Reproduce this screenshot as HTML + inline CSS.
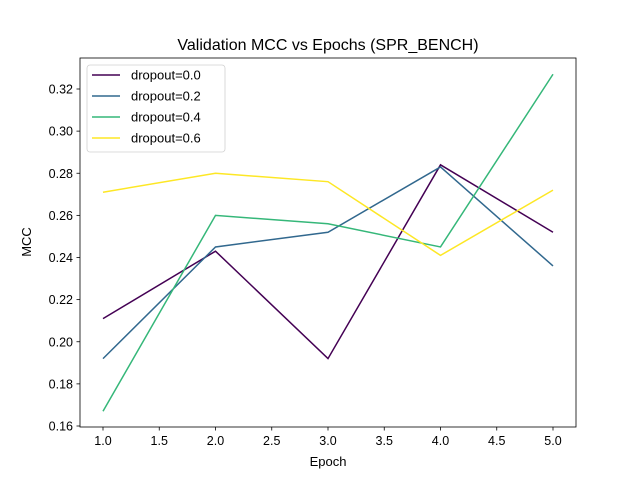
<!DOCTYPE html>
<html><head><meta charset="utf-8"><style>
body{margin:0;background:#fff;}
svg{display:block;font-family:"Liberation Sans","DejaVu Sans",sans-serif;}
</style></head><body>
<svg id="chart" width="640" height="480">
<rect x="0" y="0" width="640" height="480" fill="#fff"/>
<text x="328" y="50" text-anchor="middle" font-size="16">Validation MCC vs Epochs (SPR_BENCH)</text>
<g id="grid"></g>
<g id="series"></g>
<rect x="80" y="58" width="496" height="369" fill="none" stroke="#000" stroke-width="0.8"/>
<text x="328" y="466" text-anchor="middle" font-size="13">Epoch</text>
<text transform="translate(31,242) rotate(-90)" text-anchor="middle" font-size="13">MCC</text>
<g id="legend"></g>
</svg>
<script>
const epochs = [1, 2, 3, 4, 5];
const seriesNames = ["dropout=0.0", "dropout=0.2", "dropout=0.4", "dropout=0.6"];
const d00 = [0.211, 0.243, 0.192, 0.284, 0.252];
const d02 = [0.192, 0.245, 0.252, 0.283, 0.236];
const d04 = [0.167, 0.260, 0.256, 0.245, 0.327];
const d06 = [0.271, 0.280, 0.276, 0.241, 0.272];
const xTicks = [1.0, 1.5, 2.0, 2.5, 3.0, 3.5, 4.0, 4.5, 5.0];
const yTicks = [0.16, 0.18, 0.20, 0.22, 0.24, 0.26, 0.28, 0.30, 0.32];
const colors = ["#440154", "#31688e", "#35b779", "#fde725"];
const allSeries = [d00, d02, d04, d06];

const NS = "http://www.w3.org/2000/svg";
const xs = v => 103 + (v - 1) * 112.5;
const ys = v => 426 - (v - 0.16) / 0.02 * 42.125;
function mk(tag, attrs, parent){const e=document.createElementNS(NS,tag);for(const k in attrs)e.setAttribute(k,attrs[k]);parent.appendChild(e);return e;}
const grid = document.getElementById("grid");
xTicks.forEach(t=>{
  const l=mk("line",{x1:xs(t),x2:xs(t),y1:427,y2:430.5,stroke:"#000","stroke-width":0.8},grid);
  
  
  const tx=mk("text",{x:xs(t),y:445,"text-anchor":"middle","font-size":12.5},grid);
  tx.textContent=t.toFixed(1);
  
  
});
yTicks.forEach(t=>{
  const l=mk("line",{x1:76.5,x2:80,y1:ys(t),y2:ys(t),stroke:"#000","stroke-width":0.8},grid);
  
  
  const tx=mk("text",{x:73,y:ys(t)+4.5,"text-anchor":"end","font-size":12.5},grid);
  tx.textContent=t.toFixed(2);
  
  
});
const sg=document.getElementById("series");
allSeries.forEach((s,i)=>{
  const p=mk("polyline",{points:s.map((v,j)=>xs(epochs[j])+","+ys(v)).join(" "),fill:"none",stroke:colors[i],"stroke-width":1.5},sg);
  
  
});
const lg=document.getElementById("legend");
const box=mk("rect",{x:87,y:65,width:138,height:87,rx:3,fill:"#fff",stroke:"#ccc","stroke-width":0.8,opacity:0.9},lg);


seriesNames.forEach((n,i)=>{
  const y=75+i*21;
  mk("line",{x1:92,x2:120,y1:y,y2:y,stroke:colors[i],"stroke-width":1.5},lg);
  const t=mk("text",{x:131,y:y+4.5,"font-size":13},lg);
  t.textContent=n;
  
  
});
</script>
</body></html>
